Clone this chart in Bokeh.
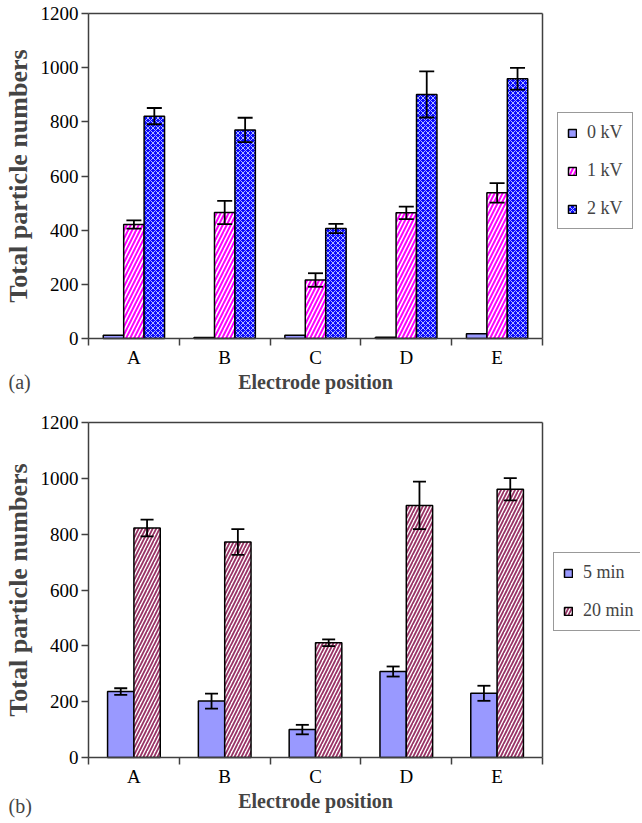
import math
from bokeh.plotting import figure
from bokeh.models import (ColumnDataSource, Whisker, TeeHead, FixedTicker,
                          Legend, LegendItem, Label, Range1d)
from bokeh.layouts import column
from bokeh.embed import file_html
from bokeh.resources import INLINE

# ---------------- data ----------------
categories = ["A", "B", "C", "D", "E"]
y_ticks = [0, 200, 400, 600, 800, 1000, 1200]

# panel (a)
kv0 = [12, 4, 12, 5, 18]
kv1 = [421, 465, 216, 464, 538]
kv1_err = [15, 43, 25, 23, 36]
kv2 = [821, 770, 406, 901, 959]
kv2_err = [30, 45, 17, 85, 40]

# panel (b)
min5 = [236, 202, 100, 308, 230]
min5_err = [12, 27, 17, 18, 27]
min20 = [822, 772, 411, 903, 961]
min20_err = [30, 46, 12, 85, 40]

FONT = "Liberation Serif"
AXC = "#404040"
N = len(categories)
W = 640
LEFT = 88            # pixels left of the value axis
PLOT_W = 454         # pixel width of the bar region


def base_fig(height, top, plot_h):
    ppx = PLOT_W / N
    ppy = plot_h / y_ticks[-1]
    below = height - top - plot_h
    p = figure(width=W, height=height, output_backend="svg",
               toolbar_location=None,
               x_range=Range1d(-LEFT / ppx, (W - LEFT) / ppx),
               y_range=Range1d(-below / ppy, y_ticks[-1] + top / ppy),
               min_border_left=0, min_border_right=0,
               min_border_top=0, min_border_bottom=0)
    p.grid.visible = False
    p.outline_line_color = None
    p.background_fill_color = "white"
    p.border_fill_color = "white"
    # plot-area border (top and right) of the bar region
    p.segment(x0=[0, N], y0=[y_ticks[-1], 0], x1=[N, N], y1=[y_ticks[-1], y_ticks[-1]],
              line_color=AXC, line_width=1.5)

    p.xaxis.fixed_location = 0
    p.xaxis.bounds = (0, N)
    p.xaxis.ticker = FixedTicker(ticks=[i + 0.5 for i in range(N)],
                                 minor_ticks=list(range(N + 1)))
    p.xaxis.major_label_overrides = {i + 0.5: c for i, c in enumerate(categories)}
    p.xaxis.major_tick_line_color = None
    p.xaxis.major_tick_out = 0
    p.xaxis.major_tick_in = 0
    p.xaxis.minor_tick_line_color = AXC
    p.xaxis.minor_tick_line_width = 1.5
    p.xaxis.minor_tick_out = 7
    p.xaxis.minor_tick_in = 0
    p.xaxis.major_label_standoff = 1

    p.yaxis.fixed_location = 0
    p.yaxis.bounds = (0, y_ticks[-1])
    p.yaxis.ticker = FixedTicker(ticks=y_ticks)
    p.yaxis.minor_tick_line_color = None
    p.yaxis.major_tick_line_color = AXC
    p.yaxis.major_tick_line_width = 1.5
    p.yaxis.major_tick_out = 7
    p.yaxis.major_tick_in = 0
    p.yaxis.major_label_standoff = 3

    for ax in (p.xaxis, p.yaxis):
        ax.axis_line_color = AXC
        ax.axis_line_width = 1.5
        ax.major_label_text_font = FONT
        ax.major_label_text_font_size = "19px"
        ax.major_label_text_color = "black"

    # axis titles
    p.add_layout(Label(x=N / 2, y=below - 43, x_units="data", y_units="screen",
                       text="Electrode position", text_font=FONT,
                       text_font_size="20px", text_font_style="bold",
                       text_align="center", text_baseline="middle"))
    p.add_layout(Label(x=18, y=y_ticks[-1] / 2, x_units="screen", y_units="data",
                       text="Total particle numbers", angle=math.pi / 2,
                       text_font=FONT, text_font_size="26px", text_font_style="bold",
                       text_align="center", text_baseline="middle"))
    return p, below


def add_bars(p, values, errs, offset, width, style, head):
    xs = [i + 0.5 + offset for i in range(N)]
    src = ColumnDataSource(dict(x=xs, top=values))
    r = p.vbar(x="x", top="top", bottom=0, width=width, source=src,
               line_color="black", line_width=1.5, **style)
    if errs is not None:
        esrc = ColumnDataSource(dict(
            x=xs,
            upper=[v + e for v, e in zip(values, errs)],
            lower=[v - e for v, e in zip(values, errs)]))
        w = Whisker(base="x", upper="upper", lower="lower", source=esrc,
                    level="overlay", line_color="black", line_width=1.8,
                    upper_head=TeeHead(size=head, line_color="black", line_width=1.8),
                    lower_head=TeeHead(size=head, line_color="black", line_width=1.8))
        p.add_layout(w)
    return r


def style_legend(leg, pad, standoff, spacing, label_h):
    leg.label_text_font = FONT
    leg.label_text_font_size = "18px"
    leg.glyph_width = 10
    leg.glyph_height = 10
    leg.label_height = label_h
    leg.label_standoff = standoff
    leg.spacing = spacing
    leg.padding = pad
    leg.margin = 0
    leg.border_line_color = "#333333"
    leg.border_line_width = 1.2
    leg.background_fill_color = "white"
    leg.background_fill_alpha = 1


def panel_tag(p, text, y):
    p.add_layout(Label(x=8, y=y, x_units="screen", y_units="screen", text=text,
                       text_font=FONT, text_font_size="20px",
                       text_baseline="middle"))


# ---------------- panel (a) ----------------
p1, below1 = base_fig(408, 13, 325)
bw1 = 0.225
r0 = add_bars(p1, kv0, None, -bw1, bw1, dict(fill_color="#9999ff"), 15)
r1 = add_bars(p1, kv1, kv1_err, 0, bw1,
              dict(fill_color="white", hatch_pattern="right_diagonal_line",
                   hatch_color="#ff00ff", hatch_scale=8, hatch_weight=2), 15)
r2 = add_bars(p1, kv2, kv2_err, bw1, bw1,
              dict(fill_color="#0a0aff", hatch_pattern="diagonal_cross",
                   hatch_color="#b0b8ff", hatch_scale=5, hatch_weight=1), 15)
leg1 = Legend(items=[LegendItem(label="0 kV", renderers=[r0]),
                     LegendItem(label="1 kV", renderers=[r1]),
                     LegendItem(label="2 kV", renderers=[r2])],
              location=(557, 179))
style_legend(leg1, 9, 10, 17, 20)
p1.add_layout(leg1)
panel_tag(p1, "(a)", below1 - 43)

# ---------------- panel (b) ----------------
p2, below2 = base_fig(414, 14, 335)
bw2 = 0.29
s0 = add_bars(p2, min5, min5_err, -bw2 / 2, bw2, dict(fill_color="#9999ff"), 13)
s1 = add_bars(p2, min20, min20_err, bw2 / 2, bw2,
              dict(fill_color="white", hatch_pattern="right_diagonal_line",
                   hatch_color="#993366", hatch_scale=7, hatch_weight=1.8), 13)
leg2 = Legend(items=[LegendItem(label="5 min", renderers=[s0]),
                     LegendItem(label="20 min", renderers=[s1])],
              location=(553, 191))
style_legend(leg2, 9, 10, 17, 21)
p2.add_layout(leg2)
panel_tag(p2, "(b)", below2 - 48)

layout = column(p1, p2)
open("out.html", "w").write(file_html(layout, INLINE))
